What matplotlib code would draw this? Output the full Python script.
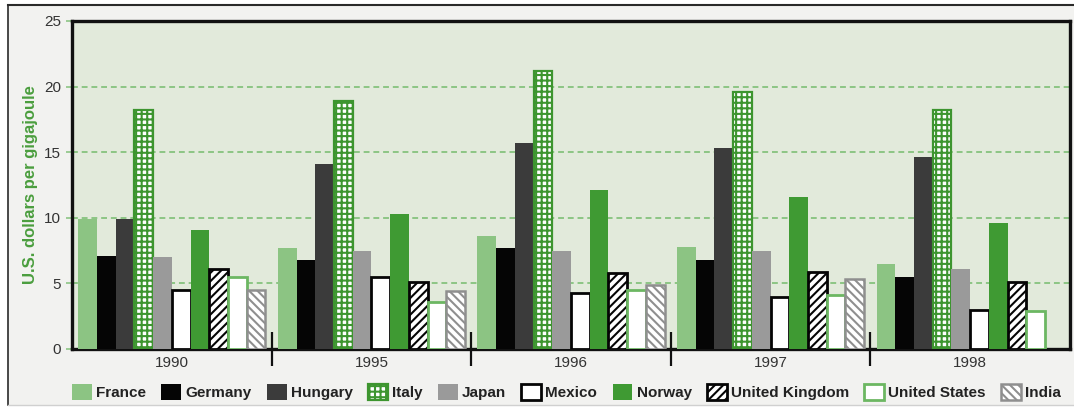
import matplotlib
matplotlib.use("Agg")
import matplotlib.pyplot as plt
import numpy as np
from matplotlib.patches import Rectangle
from matplotlib.lines import Line2D

plt.rcParams['font.family'] = ['Liberation Sans', 'DejaVu Sans']
plt.rcParams['hatch.linewidth'] = 1.5

years = ["1990", "1995", "1996", "1997", "1998"]
countries = ["France", "Germany", "Hungary", "Italy", "Japan", "Mexico",
             "Norway", "United Kingdom", "United States", "India"]

france = [9.9, 7.7, 8.6, 7.8, 6.5]
germany = [7.1, 6.8, 7.7, 6.8, 5.5]
hungary = [9.9, 14.1, 15.7, 15.3, 14.6]
italy = [18.2, 18.9, 21.2, 19.6, 18.2]
japan = [7.0, 7.5, 7.5, 7.5, 6.1]
mexico = [4.5, 5.5, 4.3, 4.0, 3.0]
norway = [9.1, 10.3, 12.1, 11.6, 9.6]
united_kingdom = [6.1, 5.1, 5.8, 5.9, 5.1]
united_states = [5.5, 3.6, 4.5, 4.1, 2.9]
india = [4.5, 4.4, 4.9, 5.3, None]

series = [france, germany, hungary, italy, japan, mexico,
          norway, united_kingdom, united_states, india]

styles = [
    dict(facecolor="#8cc483", edgecolor="#8cc483", linewidth=0),
    dict(facecolor="#050505", edgecolor="#050505", linewidth=0),
    dict(facecolor="#3b3b3b", edgecolor="#3b3b3b", linewidth=0),
    dict(facecolor="#ffffff", edgecolor="#3d952f", linewidth=1.6, hatch="+++"),
    dict(facecolor="#9a9a9a", edgecolor="#9a9a9a", linewidth=0),
    dict(facecolor="#ffffff", edgecolor="#050505", linewidth=2.0),
    dict(facecolor="#3f9a33", edgecolor="#3f9a33", linewidth=0),
    dict(facecolor="#ffffff", edgecolor="#050505", linewidth=2.0, hatch="////"),
    dict(facecolor="#ffffff", edgecolor="#6cb762", linewidth=2.0),
    dict(facecolor="#ffffff", edgecolor="#8f8f8f", linewidth=1.8, hatch="\\\\\\\\"),
]

fig = plt.figure(figsize=(10.74, 4.09), dpi=100)
fig.patch.set_facecolor("#ffffff")

# light panel with frame behind the chart
panel = Rectangle((8 / 1074, 4 / 409), 1.0, 400 / 409, transform=fig.transFigure,
                  facecolor="#f2f2f0", edgecolor="none", zorder=-10)
fig.patches.append(panel)
fig.add_artist(Line2D([8 / 1074, 1.0], [1 - 5 / 409, 1 - 5 / 409], transform=fig.transFigure,
                      color="#2a2a2a", linewidth=1.5))
fig.add_artist(Line2D([8 / 1074, 8 / 1074], [4 / 409, 1 - 5 / 409], transform=fig.transFigure,
                      color="#2a2a2a", linewidth=1.2))
fig.add_artist(Line2D([8 / 1074, 1.0], [4 / 409, 4 / 409], transform=fig.transFigure,
                      color="#d0d0d0", linewidth=1.0))

ax = fig.add_axes([72 / 1074, 60 / 409, (1070 - 72) / 1074, (349 - 21) / 409])
ax.set_facecolor("#e2eadb")

n = len(series)
width = 0.0937
x = np.arange(len(years))
handles = []
for i, (vals, st) in enumerate(zip(series, styles)):
    offs = (i - (n - 1) / 2) * width
    xs = [xi + offs for xi, v in zip(x, vals) if v is not None]
    vs = [v for v in vals if v is not None]
    bars = ax.bar(xs, vs, width=width, zorder=3, **st)
    handles.append(bars)

ax.set_xlim(-0.5, len(years) - 0.5)
ax.set_ylim(0, 25)
ax.set_yticks([0, 5, 10, 15, 20, 25])
ax.yaxis.grid(True, color="#8cc584", linestyle=(0, (3, 2)), linewidth=1.4, zorder=1)
ax.set_axisbelow(True)
ax.tick_params(axis="y", length=4, width=1.2, color="#8cc584", labelsize=11,
               labelcolor="#333333", pad=4)

ax.set_xticks(x)
ax.set_xticklabels(years)
ax.tick_params(axis="x", which="major", length=0, labelsize=11, labelcolor="#333333", pad=5)
ax.set_xticks(np.arange(0.5, len(years) - 0.5, 1.0), minor=True)
ax.tick_params(axis="x", which="minor", direction="inout", length=24, width=1.6,
               color="#111111")

for sp in ax.spines.values():
    sp.set_linewidth(2.4)
    sp.set_color("#111111")

ax.set_ylabel("U.S. dollars per gigajoule", color="#4b9e3e", fontsize=12,
              fontweight="bold", labelpad=4)

leg = fig.legend(handles, countries, loc="center", bbox_to_anchor=(0.5275, 1 - 392 / 409),
                 ncol=10, frameon=False, handlelength=1.3, handleheight=1.2,
                 handletextpad=0.27, columnspacing=1.0, borderaxespad=0,
                 prop=dict(weight="bold", size=11))
for t in leg.get_texts():
    t.set_color("#222222")

fig.savefig("out.png", dpi=100, facecolor=fig.get_facecolor())
